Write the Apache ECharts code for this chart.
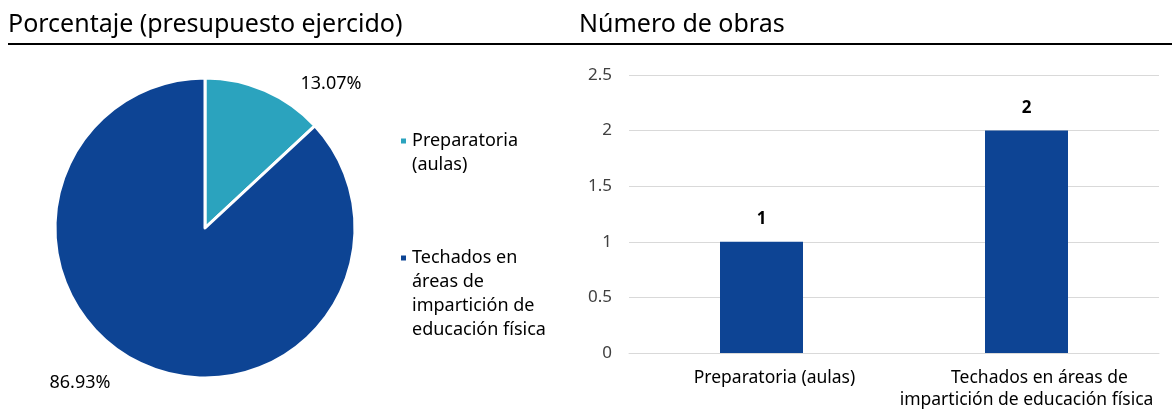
<!DOCTYPE html>
<html><head><meta charset="utf-8">
<script src="https://cdn.jsdelivr.net/npm/echarts@6/dist/echarts.min.js"></script>
<style>html,body{margin:0;padding:0;background:#fff}#c{width:1172px;height:409px}</style>
</head><body><div id="c"></div>
<script>
const pieCategories = ['Preparatoria (aulas)', 'Techados en áreas de impartición de educación física'];
const pieLegendLines = [['Preparatoria', '(aulas)'], ['Techados en', 'áreas de', 'impartición de', 'educación física']];
const pieValues = [13.07, 86.93];
const barCategories = ['Preparatoria (aulas)', 'Techados en áreas de impartición de educación física'];
const barTickLines = [['Preparatoria (aulas)'], ['Techados en áreas de', 'impartición de educación física']];
const barValues = [1, 2];
const yTicks = [0, 0.5, 1, 1.5, 2, 2.5];
const titles = ['Porcentaje (presupuesto ejercido)', 'Número de obras'];

const FONT = '"Noto Sans", sans-serif';
const teal = '#2ba3be', navy = '#0d4494';
const chart = echarts.init(document.getElementById('c'), null, {renderer: 'canvas'});
const labelPos = [[331, 84], [80, 383]];
// pad with leading blank lines so the icon sits beside the first line
const legendText = lines => '\n'.repeat(lines.length - 1) + lines.join('\n');
chart.setOption({
  animation: false,
  textStyle: {fontFamily: FONT},
  title: [
    {text: titles[0], left: 3, top: 7, textStyle: {fontSize: 25, fontWeight: 'normal', color: '#000', fontFamily: FONT}},
    {text: titles[1], left: 574, top: 7, textStyle: {fontSize: 25, fontWeight: 'normal', color: '#000', fontFamily: FONT}}
  ],
  graphic: [{type: 'line', shape: {x1: 8, y1: 44, x2: 1172, y2: 44}, style: {stroke: '#000', lineWidth: 2}}],
  legend: {
    orient: 'vertical', left: 394, top: 100, itemWidth: 7, itemHeight: 7, itemGap: -3,
    icon: 'rect',
    data: pieCategories,
    formatter: n => legendText(pieLegendLines[pieCategories.indexOf(n)]),
    textStyle: {fontSize: 18, lineHeight: 24, color: '#000', fontFamily: FONT},
    selectedMode: false
  },
  grid: {left: 629, right: 13, top: 75, bottom: 56, containLabel: false, outerBoundsMode: 'none'},
  xAxis: {
    type: 'category', data: barCategories,
    axisLine: {lineStyle: {color: '#d9d9d9', width: 1}},
    axisTick: {show: false},
    axisLabel: {fontSize: 17.5, color: '#000', lineHeight: 22, margin: 14, interval: 0,
      formatter: (v, i) => barTickLines[i].map((l, k) => (k === 0 ? '{a|' : '{b|') + l + '}').join('\n'),
      rich: {
        a: {fontSize: 17.5, lineHeight: 22, color: '#000', fontFamily: FONT, padding: [0, 0, 0, 26]},
        b: {fontSize: 17.5, lineHeight: 22, color: '#000', fontFamily: FONT}
      }}
  },
  yAxis: {
    type: 'value', min: 0, max: 2.5, interval: 0.5,
    axisLine: {show: false}, axisTick: {show: false},
    splitLine: {lineStyle: {color: '#d9d9d9', width: 1}},
    axisLabel: {fontSize: 17, color: '#404040', margin: 17,
      formatter: v => yTicks.includes(v) ? String(v) : ''}
  },
  series: [
    {
      type: 'pie', center: [205, 228], radius: [0, 150], startAngle: 90, clockwise: true,
      data: pieCategories.map((n, i) => ({name: n, value: pieValues[i]})),
      color: [teal, navy],
      itemStyle: {borderColor: '#fff', borderWidth: 3},
      label: {show: true, position: 'outside', formatter: p => p.value.toFixed(2) + '%',
        fontSize: 18, color: '#000', fontFamily: FONT},
      labelLine: {show: false},
      labelLayout: p => ({x: labelPos[p.dataIndex][0], y: labelPos[p.dataIndex][1], align: 'center', verticalAlign: 'middle'}),
      emphasis: {disabled: true}
    },
    {
      type: 'bar', data: barValues, barWidth: 83,
      itemStyle: {color: navy},
      label: {show: true, position: 'top', distance: 14, fontSize: 17, fontWeight: 'bold', color: '#000', fontFamily: FONT},
      emphasis: {disabled: true}
    }
  ]
});
</script></body></html>
